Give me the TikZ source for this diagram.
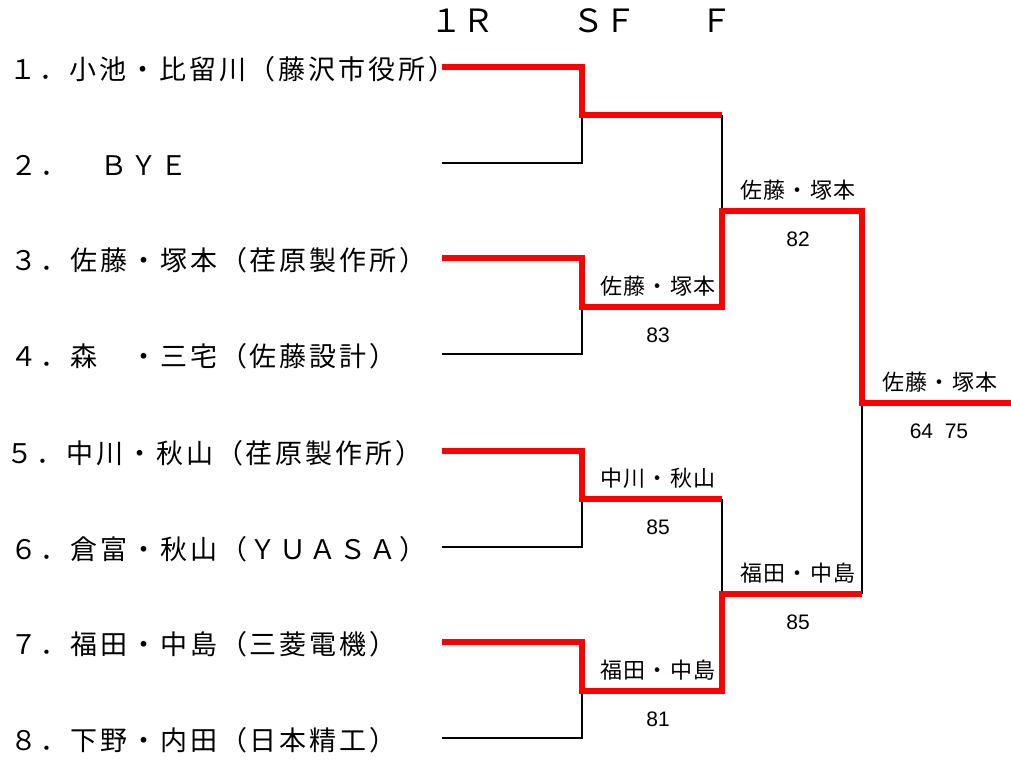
\documentclass[tikz,border=0pt]{standalone}
\usepackage{fontspec}
\newfontfamily\jp[LetterSpace=11]{Noto Sans CJK JP}
\newfontfamily\jps[LetterSpace=6]{Noto Sans CJK JP}
\newfontfamily\jph{Noto Sans CJK JP}
\newfontfamily\numf{Liberation Sans}
\begin{document}
\begin{tikzpicture}[x=0.75pt,y=-0.75pt,
  entry/.style={anchor=base west,inner sep=0pt,font=\jp\fontsize{20.25}{24}\selectfont},
  head/.style={anchor=base,inner sep=0pt,font=\jph\fontsize{24}{28}\selectfont},
  win/.style={anchor=base,inner sep=0pt,font=\jps\fontsize{16.5}{20}\selectfont},
  score/.style={anchor=base,inner sep=0pt,font=\numf\fontsize{15.75}{18}\selectfont},
  thin/.style={draw=black,line width=1pt},
  redl/.style={draw=red,line width=3.8pt,line join=miter}]
\useasboundingbox (0,0) rectangle (1011,760);
% header
\node[head] (h1) at (462,32) {１Ｒ};
\node[head] (h2) at (604,32) {ＳＦ};
\node[head] (h3) at (716,32) {Ｆ};
% entries
\node[entry] (t1) at (9,79) {１．小池・比留川（藤沢市役所）};
\node[entry] (t2) at (10,175) {２．　ＢＹＥ};
\node[entry] (t3) at (10,270) {３．佐藤・塚本（荏原製作所）};
\node[entry] (t4) at (10,366) {４．森　・三宅（佐藤設計）};
\node[entry] (t5) at (6,463) {５．中川・秋山（荏原製作所）};
\node[entry] (t6) at (10,559) {６．倉富・秋山（ＹＵＡＳＡ）};
\node[entry] (t7) at (10,654) {７．福田・中島（三菱電機）};
\node[entry] (t8) at (10,750) {８．下野・内田（日本精工）};
% coordinates: first round
\coordinate (a1) at (442,67);  \coordinate (b1) at (582,67);
\coordinate (a2) at (442,163); \coordinate (b2) at (582,163);
\coordinate (a3) at (442,258); \coordinate (b3) at (582,258);
\coordinate (a4) at (442,354); \coordinate (b4) at (582,354);
\coordinate (a5) at (442,451); \coordinate (b5) at (582,451);
\coordinate (a6) at (442,547); \coordinate (b6) at (582,547);
\coordinate (a7) at (442,642); \coordinate (b7) at (582,642);
\coordinate (a8) at (442,738); \coordinate (b8) at (582,738);
% semifinal lines
\coordinate (s1) at (582,115); \coordinate (s1e) at (722,115);
\coordinate (s2) at (582,307); \coordinate (s2e) at (722,307);
\coordinate (s3) at (582,499); \coordinate (s3e) at (722,499);
\coordinate (s4) at (582,691); \coordinate (s4e) at (722,691);
% final lines
\coordinate (f1) at (722,211); \coordinate (f1e) at (862,211);
\coordinate (f2) at (722,594); \coordinate (f2e) at (862,594);
\coordinate (w) at (862,403);  \coordinate (we) at (1011,403);
% black lines
\draw[thin] (a2) -- (b2) -- (s1);
\draw[thin] (a4) -- (b4) -- (s2);
\draw[thin] (a6) -- (b6) -- (s3);
\draw[thin] (a8) -- (b8) -- (s4);
\draw[thin] (s1e) -- (f1);
\draw[thin] (s3e) -- (f2);
\draw[thin] (f2e) -- (w);
% red (winning) lines
\draw[redl] (a1) -- (b1) -- (s1) -- (s1e);
\draw[redl] (a3) -- (b3) -- (s2) -- (s2e) -- (f1) -- (f1e) -- (w) -- (we);
\draw[redl] (a5) -- (b5) -- (s3) -- (s3e);
\draw[redl] (a7) -- (b7) -- (s4) -- (s4e) -- (f2) -- (f2e);
% winners and scores
\node[win] (m2) at (658,294) {佐藤・塚本};
\node[score] (m2s) at (658,342) {83};
\node[win] (m3) at (658,486) {中川・秋山};
\node[score] (m3s) at (658,534) {85};
\node[win] (m4) at (658,678) {福田・中島};
\node[score] (m4s) at (658,726) {81};
\node[win] (g1) at (798,198) {佐藤・塚本};
\node[score] (g1s) at (798,246) {82};
\node[win] (g2) at (798,581) {福田・中島};
\node[score] (g2s) at (798,629) {85};
\node[win] (ch) at (940,390) {佐藤・塚本};
\node[score] (chs) at (939,438) {64~~75};
\end{tikzpicture}
\end{document}
